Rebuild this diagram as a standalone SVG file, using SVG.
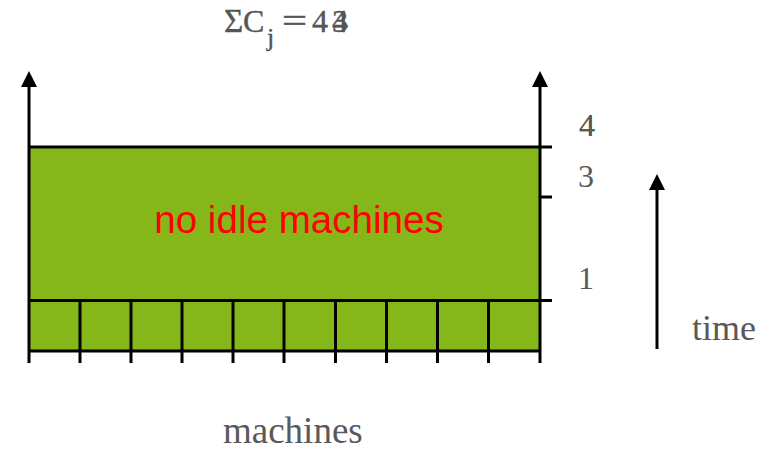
<svg xmlns="http://www.w3.org/2000/svg" width="769" height="456" viewBox="0 0 769 456">
<defs>
<style>
.ln{stroke:#000;stroke-width:3;fill:none}
.lbl{font-family:"Liberation Serif","Times New Roman",serif;fill:#595959}
.ttl{font-family:"Liberation Serif","Times New Roman",serif;fill:#555;stroke:#555;stroke-width:0.4}
.ah{fill:#000}
</style>
</defs>
<rect width="769" height="456" fill="#fff"/>
<g id="schedule">
<rect x="29" y="147" width="511" height="204" fill="#85b71a"/>
<text x="299" y="233" text-anchor="middle" font-family="Liberation Sans, Arial, sans-serif" font-size="38.6" fill="#ff0000">no idle machines</text>
</g>
<g id="connectors">
<line class="ln" x1="29" y1="84" x2="29" y2="363"/>
<line class="ln" x1="540" y1="84" x2="540" y2="363"/>
<polygon class="ah" points="29,71 21,87 37,87"/>
<polygon class="ah" points="540,71 532,87 548,87"/>
<line class="ln" x1="28" y1="147" x2="552" y2="147"/>
<line class="ln" x1="28" y1="300.5" x2="552" y2="300.5"/>
<line class="ln" x1="28" y1="351" x2="541" y2="351"/>
<line class="ln" x1="540" y1="197" x2="552" y2="197"/>
<g class="ln">
<line x1="80" y1="300" x2="80" y2="363"/>
<line x1="131" y1="300" x2="131" y2="363"/>
<line x1="182" y1="300" x2="182" y2="363"/>
<line x1="233" y1="300" x2="233" y2="363"/>
<line x1="284" y1="300" x2="284" y2="363"/>
<line x1="335.5" y1="300" x2="335.5" y2="363"/>
<line x1="386.5" y1="300" x2="386.5" y2="363"/>
<line x1="437.5" y1="300" x2="437.5" y2="363"/>
<line x1="488.5" y1="300" x2="488.5" y2="363"/>
</g>
<line class="ln" x1="657" y1="187" x2="657" y2="349"/>
<polygon class="ah" points="657,174 649,190 665,190"/>
</g>
<g id="labels">
<text class="ttl" x="224" y="32" font-size="33">Σ</text>
<text class="ttl" x="243" y="32" font-size="32">C</text>
<text class="ttl" x="267" y="46" font-size="26">j</text>
<text class="ttl" transform="translate(282,32) scale(1.35,1)" font-size="33">=</text>
<text class="ttl" x="312" y="32" font-size="32">4</text>
<text class="ttl" x="332" y="32" font-size="32">4</text>
<text class="ttl" x="332" y="32" font-size="32">3</text>
<text class="lbl" x="579" y="136" font-size="32">4</text>
<text class="lbl" x="579" y="136" font-size="32">4</text>
<text class="lbl" x="578" y="187" font-size="32">3</text>
<text class="lbl" x="578" y="289" font-size="32">1</text>
<text class="lbl" x="692" y="340" font-size="36">time</text>
<text class="lbl" x="223" y="443" font-size="37">machines</text>
</g>
</svg>
